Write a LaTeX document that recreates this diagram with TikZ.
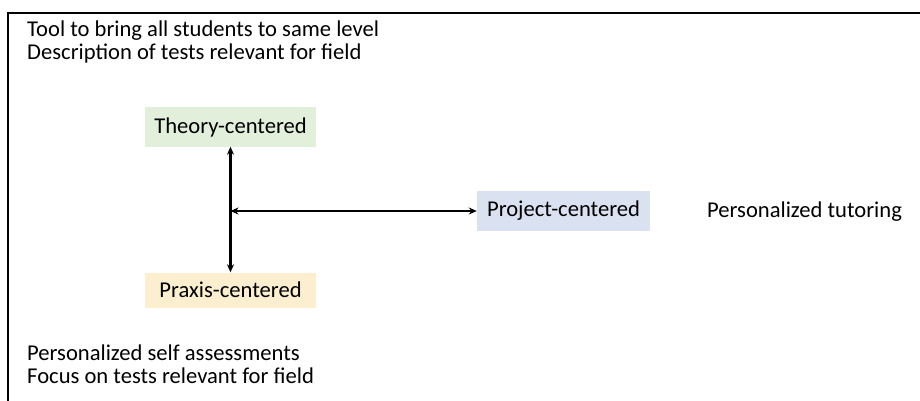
\documentclass[tikz,border=0pt]{standalone}
\usepackage{fontspec}
\setmainfont{Carlito}
\usetikzlibrary{arrows.meta}

\tikzset{
    centerbox/.style={minimum width=171pt, minimum height=39pt, inner sep=0pt},
    notetext/.style={anchor=west, align=left, inner sep=0pt},
    linkarrow/.style={line width=2.2pt, {Stealth[length=8pt,width=7pt]}-{Stealth[length=8pt,width=7pt]}}
}
\definecolor{theorygreen}{HTML}{E2EFDA}
\definecolor{praxisyellow}{HTML}{FBEFCF}
\definecolor{projectblue}{HTML}{DAE1F1}

\begin{document}
\begin{tikzpicture}[x=1pt, y=-1pt, font=\fontsize{22.6}{23.5}\selectfont]

\useasboundingbox (0,0) rectangle (920,401);

% Draw the frame (cut off at right and bottom)
\draw[line width=2.4pt] (8,401) -- (8,13) -- (920,13);

% Notes
\node[notetext] (topnote) at (27,42) {Tool to bring all students to same level\\Description of tests relevant for field};
\node[notetext] (bottomnote) at (27,364) {Personalized self assessments\\Focus on tests relevant for field};
\node[notetext] (tutoring) at (707,212) {Personalized tutoring};

% The three centres
\node[centerbox, fill=theorygreen] (theory) at (230.5,127) {Theory-centered};
\node[centerbox, fill=praxisyellow, minimum height=35pt] (praxis) at (230.5,290) {Praxis-centered};
\node[centerbox, fill=projectblue, minimum width=173pt, minimum height=40pt] (project) at (563.5,211) {Project-centered};

% Connectors
\coordinate (mid) at (theory.south |- project.west);
\draw[linkarrow] (theory.south) -- (praxis.north);
\draw[linkarrow] (mid) -- (project.west);

\end{tikzpicture}
\end{document}
